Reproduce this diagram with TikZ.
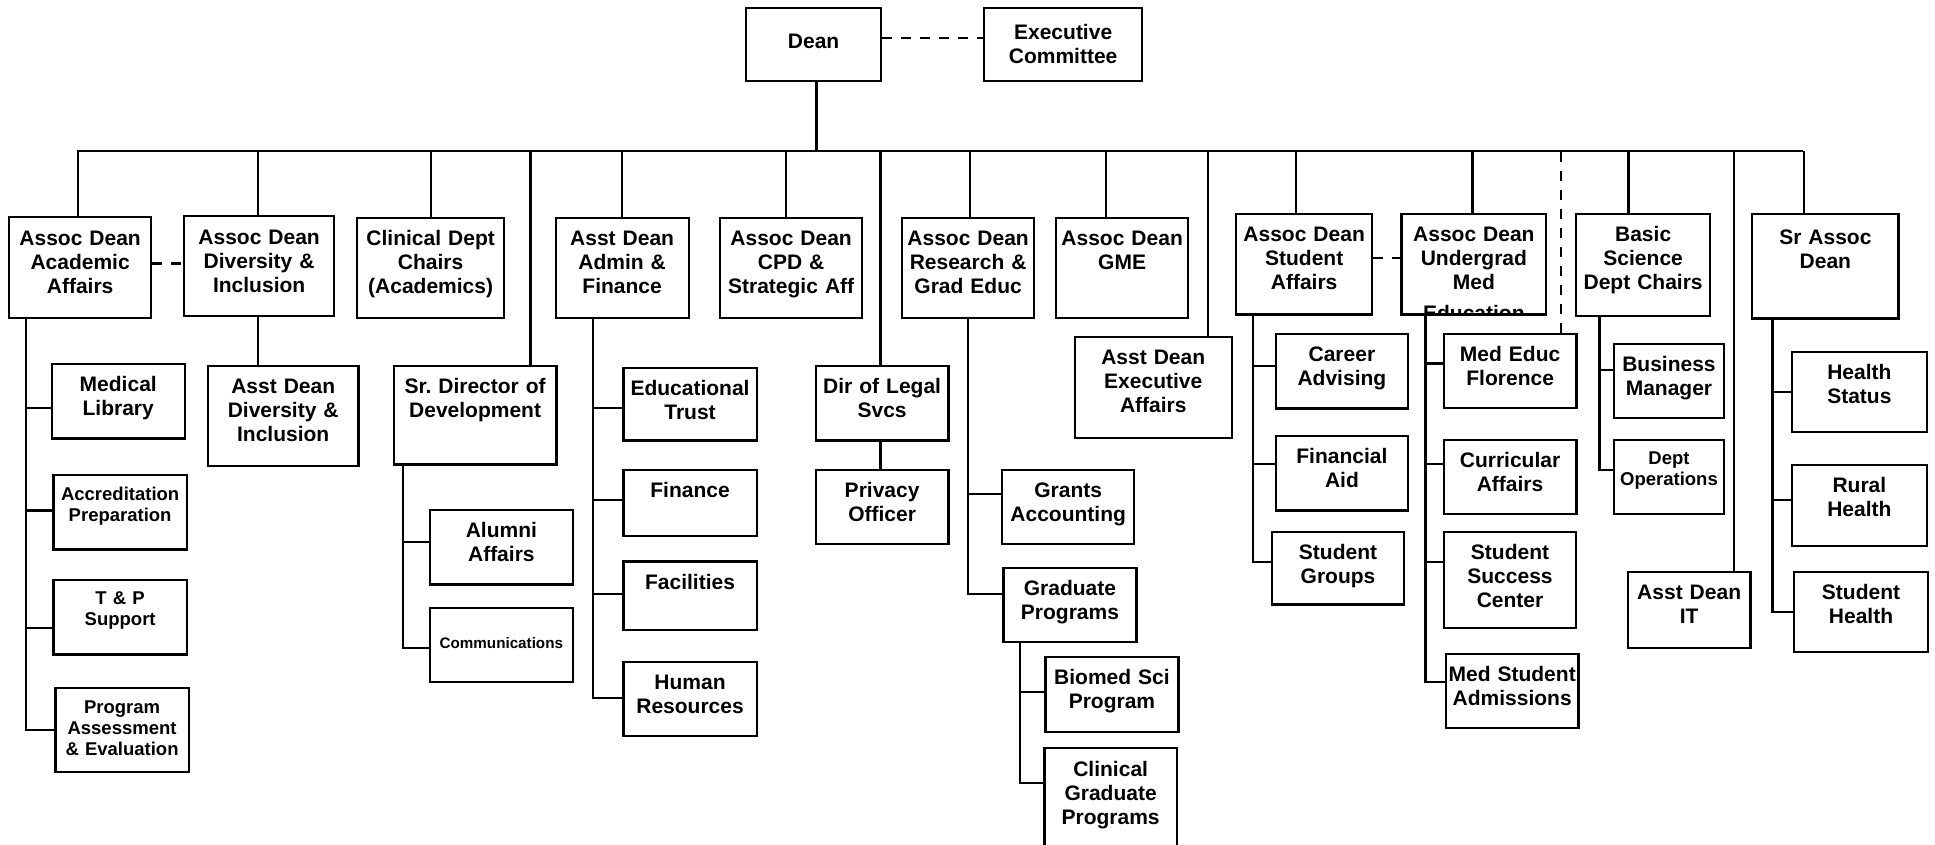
\documentclass[tikz,border=0pt]{standalone}
\usepackage{fontspec}
\setmainfont{Liberation Sans}
\usepackage{tikz}
\usetikzlibrary{calc,positioning}
\tikzstyle{box} = [rectangle, draw, line width=2.3pt, inner sep=0pt, align=center, anchor=north west, font=\bfseries\fontsize{21}{24}\selectfont]
\tikzstyle{smallbox} = [font=\bfseries\fontsize{18.5}{21.5}\selectfont]
\tikzstyle{minibox} = [font=\bfseries\fontsize{15.2}{18}\selectfont]
\tikzstyle{conn} = [line width=2.3pt]
\tikzstyle{dconn} = [line width=2.3pt, dash pattern=on 10pt off 9pt]

\begin{document}
\frenchspacing
\begin{tikzpicture}[x=1pt,y=-1pt]
\path [use as bounding box, fill=white] (0,0) rectangle (1935,844);

\node (dean) [box, text width=135pt, text height=40pt, text depth=33pt] at (745,7) {Dean};
\node (exec) [box, text width=158pt, text height=31.5pt, text depth=41.5pt] at (983,7) {Executive\\Committee};

\node (acad) [box, text width=142pt, text height=28pt, text depth=73pt] at (8,216) {Assoc Dean\\Academic\\Affairs};
\node (div) [box, text width=150pt, text height=28.3pt, text depth=72pt] at (183,214.7) {Assoc Dean\\Diversity \&\\Inclusion};
\node (clin) [box, text width=147pt, text height=28pt, text depth=72pt] at (356,216.7) {Clinical Dept\\Chairs\\(Academics)};
\node (admin) [box, text width=133pt, text height=28pt, text depth=72pt] at (554.5,216.7) {Asst Dean\\Admin \&\\Finance};
\node (cpd) [box, text width=142pt, text height=27.6pt, text depth=72.4pt] at (719,216.7) {Assoc Dean\\CPD \&\\Strategic Aff};
\node (res) [box, text width=132pt, text height=28pt, text depth=72pt] at (901,216.7) {Assoc Dean\\Research \&\\Grad Educ};
\node (gme) [box, text width=132pt, text height=28pt, text depth=72pt] at (1055,216.7) {Assoc Dean\\GME};
\node (stud) [box, text width=136pt, text height=27.3pt, text depth=73.3pt] at (1235,212.7) {Assoc Dean\\Student\\Affairs};
\node (ugrad) [box, text width=144.6pt, text height=28pt, text depth=72.6pt, path picture={\node (ugradtxt) [draw=none, inner sep=0pt, anchor=base, font=\bfseries\fontsize{21}{24}\selectfont] at ([yshift=-6pt]path picture bounding box.south) {Education};}] at (1400.4,212.7) {Assoc Dean\\Undergrad\\Med};
\node (basic) [box, text width=134pt, text height=28pt, text depth=74.3pt] at (1575,212.7) {Basic\\Science\\Dept Chairs};
\node (srassoc) [box, text width=146.4pt, text height=30.8pt, text depth=73.8pt] at (1751,212.7) {Sr Assoc\\Dean};

\node (medlib) [box, text width=133.2pt, text height=28pt, text depth=46.6pt] at (50.5,362.7) {Medical\\Library};
\node (accr) [box, smallbox, text width=133.2pt, text height=25.3pt, text depth=49.3pt] at (52.4,473.7) {Accreditation\\Preparation};
\node (tp) [box, smallbox, text width=133.2pt, text height=24.6pt, text depth=50pt] at (52.4,578.7) {T \& P\\Support};
\node (prog) [box, font=\bfseries\fontsize{18.5}{20.7}\selectfont, text width=133.2pt, text height=26pt, text depth=58pt] at (54.3,686.7) {Program\\Assessment\\\& Evaluation};
\node (adiv) [box, text width=150.7pt, text height=27.8pt, text depth=72.5pt] at (206.7,364.7) {Asst Dean\\Diversity \&\\Inclusion};
\node (srdir) [box, text width=162.7pt, text height=27.8pt, text depth=70.8pt] at (392.6,364.7) {Sr. Director of\\Development};
\node (alum) [box, text width=143.2pt, text height=27.8pt, text depth=46.8pt] at (428.6,508.7) {Alumni\\Affairs};
\node (comm) [box, minibox, text width=143.2pt, text height=40.5pt, text depth=33.8pt] at (428.6,606.7) {Communications};
\node (edtr) [box, text width=133.2pt, text height=27.5pt, text depth=45.1pt] at (622.3,366.7) {Educational\\Trust};
\node (fin) [box, text width=133.2pt, text height=27.8pt, text depth=38.5pt] at (622.3,468.7) {Finance};
\node (fac) [box, text width=133.2pt, text height=28.2pt, text depth=40.5pt] at (622.3,560.3) {Facilities};
\node (hr) [box, text width=133.2pt, text height=27.5pt, text depth=46.5pt] at (622.3,661) {Human\\Resources};
\node (legal) [box, text width=132.5pt, text height=27.8pt, text depth=46.8pt] at (814.7,364.7) {Dir of Legal\\Svcs};
\node (priv) [box, text width=132.5pt, text height=27.8pt, text depth=46.2pt] at (814.7,468.7) {Privacy\\Officer};
\node (grants) [box, text width=132pt, text height=27.8pt, text depth=46.5pt] at (1001,468.7) {Grants\\Accounting};
\node (grad) [box, text width=132.8pt, text height=27.5pt, text depth=46.8pt] at (1002.4,566.7) {Graduate\\Programs};
\node (biomed) [box, text width=133pt, text height=27.5pt, text depth=47.2pt] at (1044.3,656) {Biomed Sci\\Program};
\node (clingrad) [box, text width=132.4pt, text height=28pt, text depth=82pt] at (1043.3,747) {Clinical\\Graduate\\Programs};
\node (execaff) [box, text width=157pt, text height=27.5pt, text depth=73.2pt] at (1073.6,336) {Asst Dean\\Executive\\Affairs};
\node (career) [box, text width=132.5pt, text height=28pt, text depth=46.6pt] at (1274.5,332.7) {Career\\Advising};
\node (finaid) [box, text width=132.5pt, text height=27.8pt, text depth=46.8pt] at (1274.5,434.7) {Financial\\Aid};
\node (sgroups) [box, text width=132.3pt, text height=27.5pt, text depth=45.1pt] at (1270.7,530.7) {Student\\Groups};
\node (florence) [box, text width=132.8pt, text height=27.7pt, text depth=46.8pt] at (1442.6,332.5) {Med Educ\\Florence};
\node (curr) [box, text width=132.6pt, text height=28pt, text depth=45.8pt] at (1442.6,438.7) {Curricular\\Affairs};
\node (success) [box, text width=132.3pt, text height=27.5pt, text depth=68.5pt] at (1442.7,531) {Student\\Success\\Center};
\node (admis) [box, text width=132.6pt, text height=27.5pt, text depth=46.8pt] at (1444.7,652.7) {Med Student\\Admissions};
\node (busmgr) [box, text width=110.6pt, text height=27.7pt, text depth=46.7pt] at (1612.5,342.5) {Business\\Manager};
\node (deptops) [box, smallbox, text width=110.6pt, text height=24.5pt, text depth=49.5pt] at (1612.5,438.7) {Dept\\Operations};
\node (it) [box, text width=122.6pt, text height=27.3pt, text depth=48.7pt] at (1626.7,570.7) {Asst Dean\\IT};
\node (hstat) [box, text width=135pt, text height=28pt, text depth=52.4pt] at (1790.7,350.5) {Health\\Status};
\node (rural) [box, text width=135pt, text height=27pt, text depth=54pt] at (1790.7,464) {Rural\\Health};
\node (shealth) [box, text width=134.3pt, text height=27.5pt, text depth=52.2pt] at (1792.7,571) {Student\\Health};

\coordinate (busL) at (76.8,150.7);
\coordinate (busR) at (1803,150.7);
\draw [conn] (busL) -- (busR);
\draw [conn] ([xshift=2.7pt]dean.south) -- ([xshift=2.7pt]dean.south |- busL);
\draw [dconn] ([yshift=6.8pt]dean.east) -- ([yshift=6.8pt]dean.east -| exec.west);

\draw [conn] ([xshift=-2.2pt]acad.north) -- ([xshift=-2.2pt]acad.north |- busL);
\draw [conn] ([xshift=-1.3pt]div.north) -- ([xshift=-1.3pt]div.north |- busL);
\draw [conn] (clin.north) -- (clin.north |- busL);
\draw [conn] (admin.north) -- (admin.north |- busL);
\draw [conn] ([xshift=-5.2pt]cpd.north) -- ([xshift=-5.2pt]cpd.north |- busL);
\draw [conn] ([xshift=1.8pt]res.north) -- ([xshift=1.8pt]res.north |- busL);
\draw [conn] ([xshift=-16pt]gme.north) -- ([xshift=-16pt]gme.north |- busL);
\draw [conn] ([xshift=-8.4pt]stud.north) -- ([xshift=-8.4pt]stud.north |- busL);
\draw [conn] ([xshift=-1.4pt]ugrad.north) -- ([xshift=-1.4pt]ugrad.north |- busL);
\draw [conn] ([xshift=-14.7pt]basic.north) -- ([xshift=-14.7pt]basic.north |- busL);
\draw [conn] ([xshift=-21.2pt]srassoc.north) -- ([xshift=-21.2pt]srassoc.north |- busL);

\draw [conn] ([xshift=55.3pt]srdir.north) -- ([xshift=55.3pt]srdir.north |- busL);
\draw [conn] ([xshift=-1.6pt]legal.north) -- ([xshift=-1.6pt]legal.north |- busL);
\draw [conn] ([xshift=54.6pt]execaff.north) -- ([xshift=54.6pt]execaff.north |- busL);
\draw [dconn] ([xshift=50.6pt]florence.north) -- ([xshift=50.6pt]florence.north |- busL);
\draw [conn] ([xshift=45pt]it.north) -- ([xshift=45pt]it.north |- busL);

\draw [dconn] ([yshift=4.2pt]acad.east) -- ([yshift=4.2pt]acad.east -| div.west);
\draw [dconn] ([yshift=6.3pt]stud.east) -- ([yshift=6.3pt]stud.east -| ugrad.west);

\draw [conn] ([xshift=-1.3pt]div.south) -- ([xshift=-1.3pt]div.south |- adiv.north);
\draw [conn] ([xshift=-1.6pt]legal.south) -- ([xshift=-1.6pt]legal.south |- priv.north);

\coordinate (acadT) at ([xshift=18pt]acad.south west);
\draw [conn] (acadT) |- (prog.west);
\draw [conn] ([yshift=-6.7pt]medlib.west) -- ([yshift=-6.7pt]medlib.west -| acadT);
\draw [conn] ([yshift=1.7pt]accr.west) -- ([yshift=1.7pt]accr.west -| acadT);
\draw [conn] ([yshift=-10.7pt]tp.west) -- ([yshift=-10.7pt]tp.west -| acadT);

\coordinate (srdirT) at ([xshift=10.4pt]srdir.south west);
\draw [conn] (srdirT) |- ([yshift=-2.9pt]comm.west);
\draw [conn] ([yshift=5pt]alum.west) -- ([yshift=5pt]alum.west -| srdirT);

\coordinate (adminT) at ([xshift=38.2pt]admin.south west);
\draw [conn] (adminT) |- ([yshift=1.3pt]hr.west);
\draw [conn] ([yshift=-4pt]edtr.west) -- ([yshift=-4pt]edtr.west -| adminT);
\draw [conn] ([yshift=2.9pt]fin.west) -- ([yshift=2.9pt]fin.west -| adminT);
\draw [conn] ([yshift=1.7pt]fac.west) -- ([yshift=1.7pt]fac.west -| adminT);

\coordinate (resT) at ([xshift=-0.5pt]res.south);
\draw [conn] (resT) |- ([yshift=11.2pt]grad.west);
\draw [conn] ([yshift=13.2pt]grants.west) -- ([yshift=13.2pt]grants.west -| resT);

\coordinate (gradT) at ([xshift=17.6pt]grad.south west);
\draw [conn] (gradT) |- ([yshift=-35.7pt]clingrad.north west);
\draw [conn] ([yshift=2.4pt]biomed.west) -- ([yshift=2.4pt]biomed.west -| gradT);

\coordinate (studT) at ([xshift=18pt]stud.south west);
\draw [conn] (studT) |- ([yshift=6.3pt]sgroups.west);
\draw [conn] ([yshift=5pt]career.west) -- ([yshift=5pt]career.west -| studT);
\draw [conn] ([yshift=9pt]finaid.west) -- ([yshift=9pt]finaid.west -| studT);

\coordinate (ugradT) at ([xshift=25.1pt]ugrad.south west);
\draw [conn] (ugradT) |- ([yshift=8.9pt]admis.west);
\draw [conn] ([yshift=7.5pt]florence.west) -- ([yshift=7.5pt]florence.west -| ugradT);
\draw [conn] ([yshift=12.6pt]curr.west) -- ([yshift=12.6pt]curr.west -| ugradT);
\draw [conn] ([yshift=18pt]success.west) -- ([yshift=18pt]success.west -| ugradT);

\coordinate (basicT) at ([xshift=24.5pt]basic.south west);
\draw [conn] (basicT) |- ([yshift=7pt]deptops.west);
\draw [conn] ([yshift=10.7pt]busmgr.west) -- ([yshift=10.7pt]busmgr.west -| basicT);

\coordinate (srassocT) at ([xshift=21.5pt]srassoc.south west);
\draw [conn] (srassocT) |- (shealth.west);
\draw [conn] (hstat.west) -- (hstat.west -| srassocT);
\draw [conn] ([yshift=5.5pt]rural.west) -- ([yshift=5.5pt]rural.west -| srassocT);
\end{tikzpicture}
\end{document}
